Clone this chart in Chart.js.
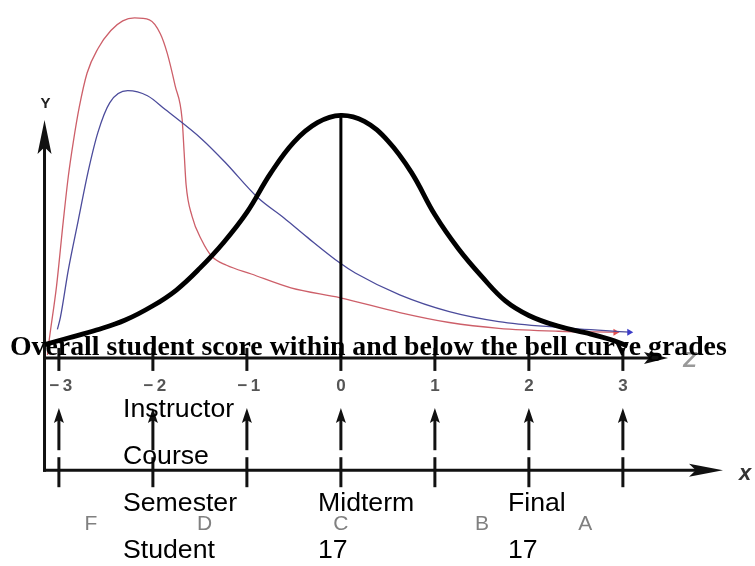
<!DOCTYPE html>
<html>
<head>
<meta charset="utf-8">
<script src="https://cdn.jsdelivr.net/npm/chart.js@4.4.1/dist/chart.umd.min.js"></script>
<style>
  body { margin: 0; background: #fff; }
  #wrap { position: relative; width: 755px; height: 566px; overflow: hidden; }
  #wrap canvas { position: absolute; left: 0; top: 0; }
  .title { position: absolute; left: 10px; top: 331.7px; font: bold 27.8px/1 "Liberation Serif", "Times New Roman", serif; white-space: nowrap; color: #000; }
  .cell { position: absolute; font: 26.67px/1 "Liberation Sans", Arial, sans-serif; white-space: nowrap; color: #000; }
</style>
</head>
<body>
<div id="wrap">
  <canvas id="myChart" width="755" height="566"></canvas>
  <div class="title">Overall student score within and below the bell curve grades</div>
</div>
<script>
// standard score ticks and the grade bands under them
const zTicks = [-3, -2, -1, 0, 1, 2, 3];
const gradeLetters = ['F', 'D', 'C', 'B', 'A'];
const gradeZ = [-2.66, -1.45, 0, 1.5, 2.6];

// normal (bell) curve, peak = 1
const bellZ = [-3.15, -2.9, -2.6, -2.3, -2.0, -1.75, -1.5, -1.25, -1.0, -0.75, -0.5, -0.25, 0,
  0.25, 0.5, 0.75, 1.0, 1.25, 1.5, 1.75, 2.0, 2.3, 2.6, 2.85, 3.05];
const bellY = [0.055, 0.082, 0.115, 0.155, 0.215, 0.28, 0.37, 0.475, 0.6, 0.76, 0.89, 0.97, 1,
  0.975, 0.895, 0.765, 0.59, 0.45, 0.335, 0.235, 0.175, 0.132, 0.104, 0.078, 0.05];

// skewed class distribution (red)
const redZ = [-3.121, -3.111, -3.026, -2.953, -2.9, -2.847, -2.784, -2.7, -2.584, -2.447, -2.321,
  -2.195, -2.037, -1.921, -1.847, -1.763, -1.689, -1.668, -1.647, -1.584, -1.479, -1.374,
  -1.216, -0.953, -0.532, -0.005, 0.626, 1.153, 1.679, 2.311, 2.921];
const redY = [0.012, 0.049, 0.293, 0.565, 0.748, 0.89, 1.033, 1.175, 1.276, 1.35, 1.39,
  1.402, 1.394, 1.337, 1.256, 1.122, 0.984, 0.85, 0.715, 0.585, 0.484, 0.419,
  0.382, 0.346, 0.289, 0.248, 0.187, 0.146, 0.122, 0.11, 0.106];

// skewed class distribution (blue)
const blueZ = [-3.016, -2.984, -2.9, -2.795, -2.689, -2.584, -2.458, -2.268, -2.058, -1.868, -1.479,
  -1.237, -0.879, -0.605, -0.353, -0.005, 0.153, 0.626, 1.153, 1.679, 2.311, 3.068];
const blueY = [0.118, 0.167, 0.362, 0.565, 0.768, 0.931, 1.053, 1.102, 1.081, 1.024, 0.902,
  0.809, 0.659, 0.577, 0.496, 0.39, 0.35, 0.26, 0.191, 0.15, 0.126, 0.106];

const tableRows = [
  ['Instructor'],
  ['Course'],
  ['Semester', 'Midterm', 'Final'],
  ['Student', '17', '17'],
];

const toPoints = (xs, ys) => xs.map((x, i) => ({ x: x, y: ys[i] }));
const lastOnly = (arr, r) => arr.map((_, i) => (i === arr.length - 1 ? r : 0));

function arrowHead(ctx, tx, ty, dx, dy, len, half) {
  const bx = tx - dx * len, by = ty - dy * len;
  const nx = -dy, ny = dx;
  ctx.beginPath();
  ctx.moveTo(tx, ty);
  ctx.lineTo(bx + nx * half, by + ny * half);
  ctx.lineTo(tx - dx * len * 0.8, ty - dy * len * 0.8);
  ctx.lineTo(bx - nx * half, by - ny * half);
  ctx.closePath();
  ctx.fill();
}

// axes, arrows, tick labels and grade letters
const axesDecor = {
  id: 'axesDecor',
  beforeDatasetsDraw(chart) {
    const ctx = chart.ctx;
    const xs = chart.scales.x, ys = chart.scales.y;
    const zAxisY = ys.getPixelForValue(0);
    const xAxisY = ys.getPixelForValue(-0.463);
    const left = xs.getPixelForValue(-3.153);
    ctx.save();
    ctx.strokeStyle = '#111';
    ctx.fillStyle = '#111';
    ctx.lineWidth = 3;

    // Y axis
    ctx.beginPath();
    ctx.moveTo(left, xAxisY + 1.5);
    ctx.lineTo(left, 145);
    ctx.stroke();
    arrowHead(ctx, left, 120, 0, -1, 34, 7);

    // Z axis
    ctx.beginPath();
    ctx.moveTo(left - 1.5, zAxisY);
    ctx.lineTo(655, zAxisY);
    ctx.stroke();
    arrowHead(ctx, 668, zAxisY, 1, 0, 24, 6);

    // x axis
    ctx.beginPath();
    ctx.moveTo(left - 1.5, xAxisY);
    ctx.lineTo(700, xAxisY);
    ctx.stroke();
    arrowHead(ctx, 723, xAxisY, 1, 0, 34, 6.5);

    zTicks.forEach(z => {
      const px = xs.getPixelForValue(z);
      ctx.lineWidth = 3;
      ctx.beginPath();
      ctx.moveTo(px, zAxisY - 10);
      ctx.lineTo(px, zAxisY + 13);
      ctx.stroke();
      ctx.beginPath();
      ctx.moveTo(px, xAxisY - 13);
      ctx.lineTo(px, xAxisY + 17);
      ctx.stroke();
      // upward arrow between the two axes
      ctx.beginPath();
      ctx.moveTo(px, xAxisY - 20);
      ctx.lineTo(px, zAxisY + 62);
      ctx.stroke();
      arrowHead(ctx, px, zAxisY + 50, 0, -1, 15, 5);
    });

    ctx.fillStyle = '#555';
    ctx.font = 'bold 17px "Liberation Sans", Arial, sans-serif';
    ctx.textAlign = 'center';
    ctx.textBaseline = 'middle';
    zTicks.forEach(z => {
      const px = xs.getPixelForValue(z);
      const label = z < 0 ? '\u2212\u2009' + Math.abs(z) : String(z);
      ctx.fillText(label, px + (z < 0 ? 2 : 0), zAxisY + 28);
    });

    ctx.fillStyle = '#808080';
    ctx.font = '21px "Liberation Sans", Arial, sans-serif';
    gradeLetters.forEach((g, i) => {
      ctx.fillText(g, xs.getPixelForValue(gradeZ[i]), xAxisY + 54);
    });

    ctx.fillStyle = '#222';
    ctx.font = 'bold 15px "Liberation Sans", Arial, sans-serif';
    ctx.fillText('Y', left + 1, 104);
    ctx.fillStyle = '#999';
    ctx.font = 'italic bold 22px "Liberation Sans", Arial, sans-serif';
    ctx.fillText('Z', 690, zAxisY + 3);
    ctx.fillStyle = '#333';
    ctx.fillText('x', 745, xAxisY + 4);
    ctx.restore();
  }
};

const data = {
  datasets: [
    {
      label: 'Normal',
      data: toPoints(bellZ, bellY),
      borderColor: '#000',
      borderWidth: 4.8,
      pointRadius: 0,
      tension: 0.4,
    },
    {
      label: 'Mean',
      data: [{ x: 0, y: 0 }, { x: 0, y: 1 }],
      borderColor: '#000',
      borderWidth: 3,
      pointRadius: 0,
    },
    {
      label: 'Class B',
      data: toPoints(blueZ, blueY),
      borderColor: 'rgb(75,75,155)',
      backgroundColor: 'rgb(60,60,200)',
      borderWidth: 1.3,
      pointRadius: lastOnly(blueZ, 4),
      pointStyle: 'triangle',
      rotation: 90,
      pointBorderWidth: 0,
      cubicInterpolationMode: 'monotone',
    },
    {
      label: 'Class A',
      data: toPoints(redZ, redY),
      borderColor: 'rgb(205,95,105)',
      backgroundColor: 'rgb(225,80,80)',
      borderWidth: 1.3,
      pointRadius: lastOnly(redZ, 4),
      pointStyle: 'triangle',
      rotation: 90,
      pointBorderWidth: 0,
      cubicInterpolationMode: 'monotone',
    },
  ],
};

const config = {
  type: 'scatter',
  data: data,
  options: {
    responsive: false,
    animation: false,
    devicePixelRatio: 1,
    layout: { padding: 0 },
    showLine: true,
    clip: false,
    plugins: { legend: { display: false }, tooltip: { enabled: false } },
    scales: {
      x: { type: 'linear', min: -3.584, max: 4.363, display: false },
      y: { type: 'linear', min: -0.8415, max: 1.4593, display: false },
    },
  },
  plugins: [axesDecor],
};
const myChart = new Chart(document.getElementById('myChart'), config);

// table text laid over the chart
const wrap = document.getElementById('wrap');
const colLeft = [123, 318, 508];
tableRows.forEach((row, r) => {
  row.forEach((txt, c) => {
    const d = document.createElement('div');
    d.className = 'cell';
    d.textContent = txt;
    d.style.left = colLeft[c] + 'px';
    d.style.top = (395.4 + r * 46.7) + 'px';
    wrap.appendChild(d);
  });
});
</script>
</body>
</html>
